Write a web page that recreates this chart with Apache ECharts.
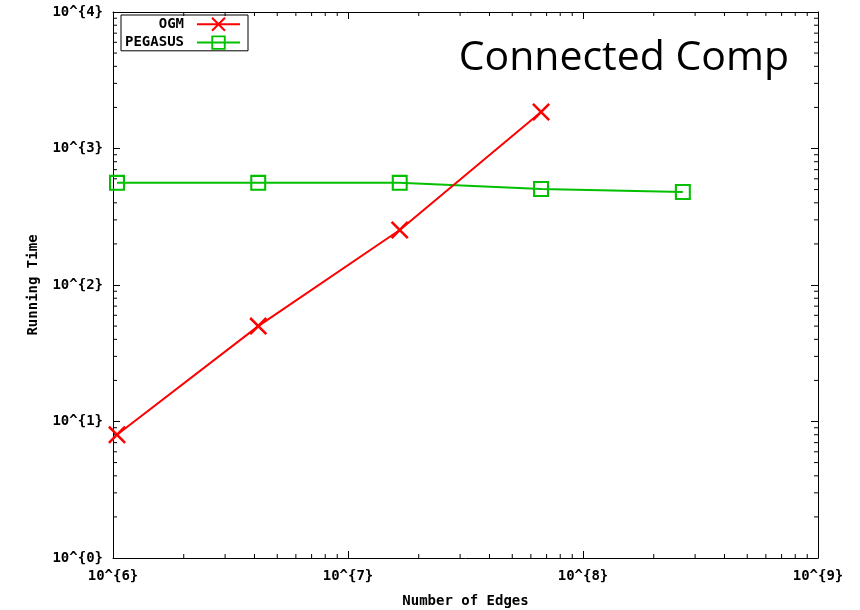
<!DOCTYPE html>
<html>
<head>
<meta charset="utf-8">
<script src="https://cdn.jsdelivr.net/npm/echarts@6/dist/echarts.min.js"></script>
<style>
  html, body { margin: 0; padding: 0; background: #fff; }
  #chart { width: 860px; height: 610px; }
</style>
</head>
<body>
<div id="chart"></div>
<script>
// Graph sizes (number of edges) and running times for connected components
const edges = [1.04e6, 4.15e6, 1.66e7, 6.63e7, 2.66e8];
const ogmTime = [8, 50, 253, 1850];
const pegasusTime = [560, 560, 560, 505, 480];
const seriesNames = ['OGM', 'PEGASUS'];
const titleText = 'Connected Comp';
const xAxisName = 'Number of Edges';
const yAxisName = 'Running Time';

// Minor tick positions: 2..9 within each decade
const xDecades = [6, 7, 8];
const yDecades = [0, 1, 2, 3];
function minorValues(decades) {
  const out = [];
  decades.forEach(function (d) {
    for (let m = 2; m <= 9; m++) out.push(m * Math.pow(10, d));
  });
  return out;
}
const xMinor = minorValues(xDecades);
const yMinor = minorValues(yDecades);

const X_MIN = 1e6, X_MAX = 1e9, Y_MIN = 1, Y_MAX = 1e4;

const monoFont = '"DejaVu Sans Mono", monospace';
const labelSize = 14;
const crossPath = 'path://M0,1L1,0L10,9L9,10Z M9,0L10,1L1,10L0,9Z';
const boxPath = 'path://M0,0L10,0L10,10L0,10Z M1.3,1.3L1.3,8.7L8.7,8.7L8.7,1.3Z';

function expLabel(v) {
  return '10^{' + Math.round(Math.log10(v)) + '}';
}

const chart = echarts.init(document.getElementById('chart'), null, { renderer: 'canvas' });

function tickSeries(values, isX) {
  return {
    type: 'custom',
    silent: true,
    xAxisIndex: 0,
    yAxisIndex: 0,
    data: values.map(function (v) { return [v]; }),
    clip: false,
    z: 1,
    renderItem: function (params, api) {
      const v = api.value(0);
      const len = 4;
      let a, b;
      if (isX) {
        a = api.coord([v, Y_MIN]);
        b = api.coord([v, Y_MAX]);
        return {
          type: 'group',
          children: [
            { type: 'line', shape: { x1: a[0], y1: a[1], x2: a[0], y2: a[1] - len }, style: { stroke: '#000', lineWidth: 1 } },
            { type: 'line', shape: { x1: b[0], y1: b[1], x2: b[0], y2: b[1] + len }, style: { stroke: '#000', lineWidth: 1 } }
          ]
        };
      }
      a = api.coord([X_MIN, v]);
      b = api.coord([X_MAX, v]);
      return {
        type: 'group',
        children: [
          { type: 'line', shape: { x1: a[0], y1: a[1], x2: a[0] + len, y2: a[1] }, style: { stroke: '#000', lineWidth: 1 } },
          { type: 'line', shape: { x1: b[0], y1: b[1], x2: b[0] - len, y2: b[1] }, style: { stroke: '#000', lineWidth: 1 } }
        ]
      };
    }
  };
}

const axisLineStyle = { show: true, onZero: false, lineStyle: { color: '#000', width: 1 } };
const majorTick = { show: true, inside: true, length: 7, lineStyle: { color: '#000', width: 1 } };
const boldMono = { fontFamily: monoFont, fontWeight: 'bold', fontSize: labelSize, color: '#000' };

const option = {
  animation: false,
  backgroundColor: '#fff',
  title: {
    text: titleText,
    right: 66,
    top: 33,
    textStyle: { fontFamily: '"Open Sans", sans-serif', fontSize: 41, fontWeight: 'normal', color: '#000' }
  },
  legend: {
    data: seriesNames,
    orient: 'vertical',
    left: 121,
    top: 15,
    align: 'right',
    itemWidth: 43,
    itemHeight: 18,
    itemGap: 4,
    padding: [2, 7, 1, 4],
    borderColor: '#000',
    borderWidth: 1,
    borderRadius: 0,
    textStyle: Object.assign({}, boldMono, { width: 67, align: 'right', padding: [0, 8, 0, 0] })
  },
  grid: { left: 113, right: 42, top: 12, bottom: 52, containLabel: false, outerBoundsMode: 'none' },
  xAxis: [
    {
      type: 'log',
      logBase: 10,
      min: X_MIN,
      max: X_MAX,
      position: 'bottom',
      name: xAxisName,
      nameLocation: 'middle',
      nameGap: 36,
      nameTextStyle: boldMono,
      axisLine: axisLineStyle,
      axisTick: majorTick,
      axisLabel: Object.assign({ formatter: expLabel, margin: 11 }, boldMono),
      splitLine: { show: false }
    },
    {
      type: 'log',
      logBase: 10,
      min: X_MIN,
      max: X_MAX,
      position: 'top',
      axisLine: axisLineStyle,
      axisTick: majorTick,
      axisLabel: { show: false },
      splitLine: { show: false }
    }
  ],
  yAxis: [
    {
      type: 'log',
      logBase: 10,
      min: Y_MIN,
      max: Y_MAX,
      position: 'left',
      name: yAxisName,
      nameLocation: 'middle',
      nameRotate: 90,
      nameGap: 73,
      nameTextStyle: boldMono,
      axisLine: axisLineStyle,
      axisTick: majorTick,
      axisLabel: Object.assign({ formatter: expLabel, margin: 10 }, boldMono),
      splitLine: { show: false }
    },
    {
      type: 'log',
      logBase: 10,
      min: Y_MIN,
      max: Y_MAX,
      position: 'right',
      axisLine: axisLineStyle,
      axisTick: majorTick,
      axisLabel: { show: false },
      splitLine: { show: false }
    }
  ],
  series: [
    tickSeries(xMinor, true),
    tickSeries(yMinor, false),
    {
      name: seriesNames[0],
      type: 'line',
      data: ogmTime.map(function (t, i) { return [edges[i], t]; }),
      symbol: crossPath,
      symbolSize: 18,
      showAllSymbol: true,
      color: '#ff0000',
      lineStyle: { color: '#ff0000', width: 2 },
      itemStyle: { color: '#ff0000' },
      z: 3
    },
    {
      name: seriesNames[1],
      type: 'line',
      data: pegasusTime.map(function (t, i) { return [edges[i], t]; }),
      symbol: boxPath,
      symbolSize: 16,
      showAllSymbol: true,
      color: '#00c000',
      lineStyle: { color: '#00c000', width: 2 },
      itemStyle: { color: '#00c000' },
      z: 2
    }
  ]
};

chart.setOption(option);
</script>
</body>
</html>
